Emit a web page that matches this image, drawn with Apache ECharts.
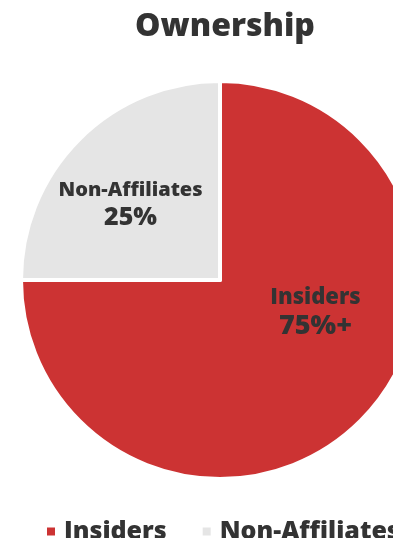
<!DOCTYPE html>
<html><head><meta charset="utf-8">
<script src="https://cdn.jsdelivr.net/npm/echarts@6/dist/echarts.min.js"></script>
<style>html,body{margin:0;padding:0;background:#fff}#c{width:393px;height:538px}</style>
</head><body><div id="c"></div>
<script>
const categories = ['Insiders', 'Non-Affiliates'];
const values = [75, 25];
const valueLabels = ['75%+', '25%'];
const colors = ['#CC3333', '#E5E5E5'];

const chart = echarts.init(document.getElementById('c'), null, {renderer: 'canvas'});
const FONT = 'Open Sans';
const W = 800;
chart.setOption({
  animation: false,
  title: {
    text: 'Ownership', left: 220, top: 6, textAlign: 'center',
    textStyle: {fontFamily: FONT, fontWeight: W, fontSize: 32, color: '#333333'}
  },
  legend: {
    data: categories, left: 45, bottom: -6, width: 600, padding: 0, icon: 'rect', itemWidth: 10, itemHeight: 10, itemGap: 34,
    textStyle: {fontFamily: FONT, fontWeight: W, fontSize: 25, color: '#333333', padding: [0,0,0,3]}
  },
  series: [{
    type: 'pie', center: [220, 280], radius: 199, startAngle: 90, clockwise: true,
    itemStyle: {borderColor: '#ffffff', borderWidth: 4},
    emphasis: {disabled: true},
    label: {
      show: true, position: 'inner',
      formatter: p => '{n' + p.dataIndex + '|' + p.name + '}\n{v' + p.dataIndex + '|' + valueLabels[p.dataIndex] + '}',
      rich: {
        n0: {fontFamily: FONT, fontWeight: W, fontSize: 22, color: '#333333', lineHeight: 28},
        v0: {fontFamily: FONT, fontWeight: W, fontSize: 27, color: '#333333', lineHeight: 30},
        n1: {fontFamily: FONT, fontWeight: W, fontSize: 20, color: '#333333', lineHeight: 26},
        v1: {fontFamily: FONT, fontWeight: W, fontSize: 25, color: '#333333', lineHeight: 28}
      }
    },
    labelLayout: p => p.dataIndex === 0 ? {dx: 23, dy: -40} : {dx: -17, dy: -3},
    data: categories.map((c, i) => ({name: c, value: values[i], itemStyle: {color: colors[i]}}))
  }]
});
</script></body></html>
